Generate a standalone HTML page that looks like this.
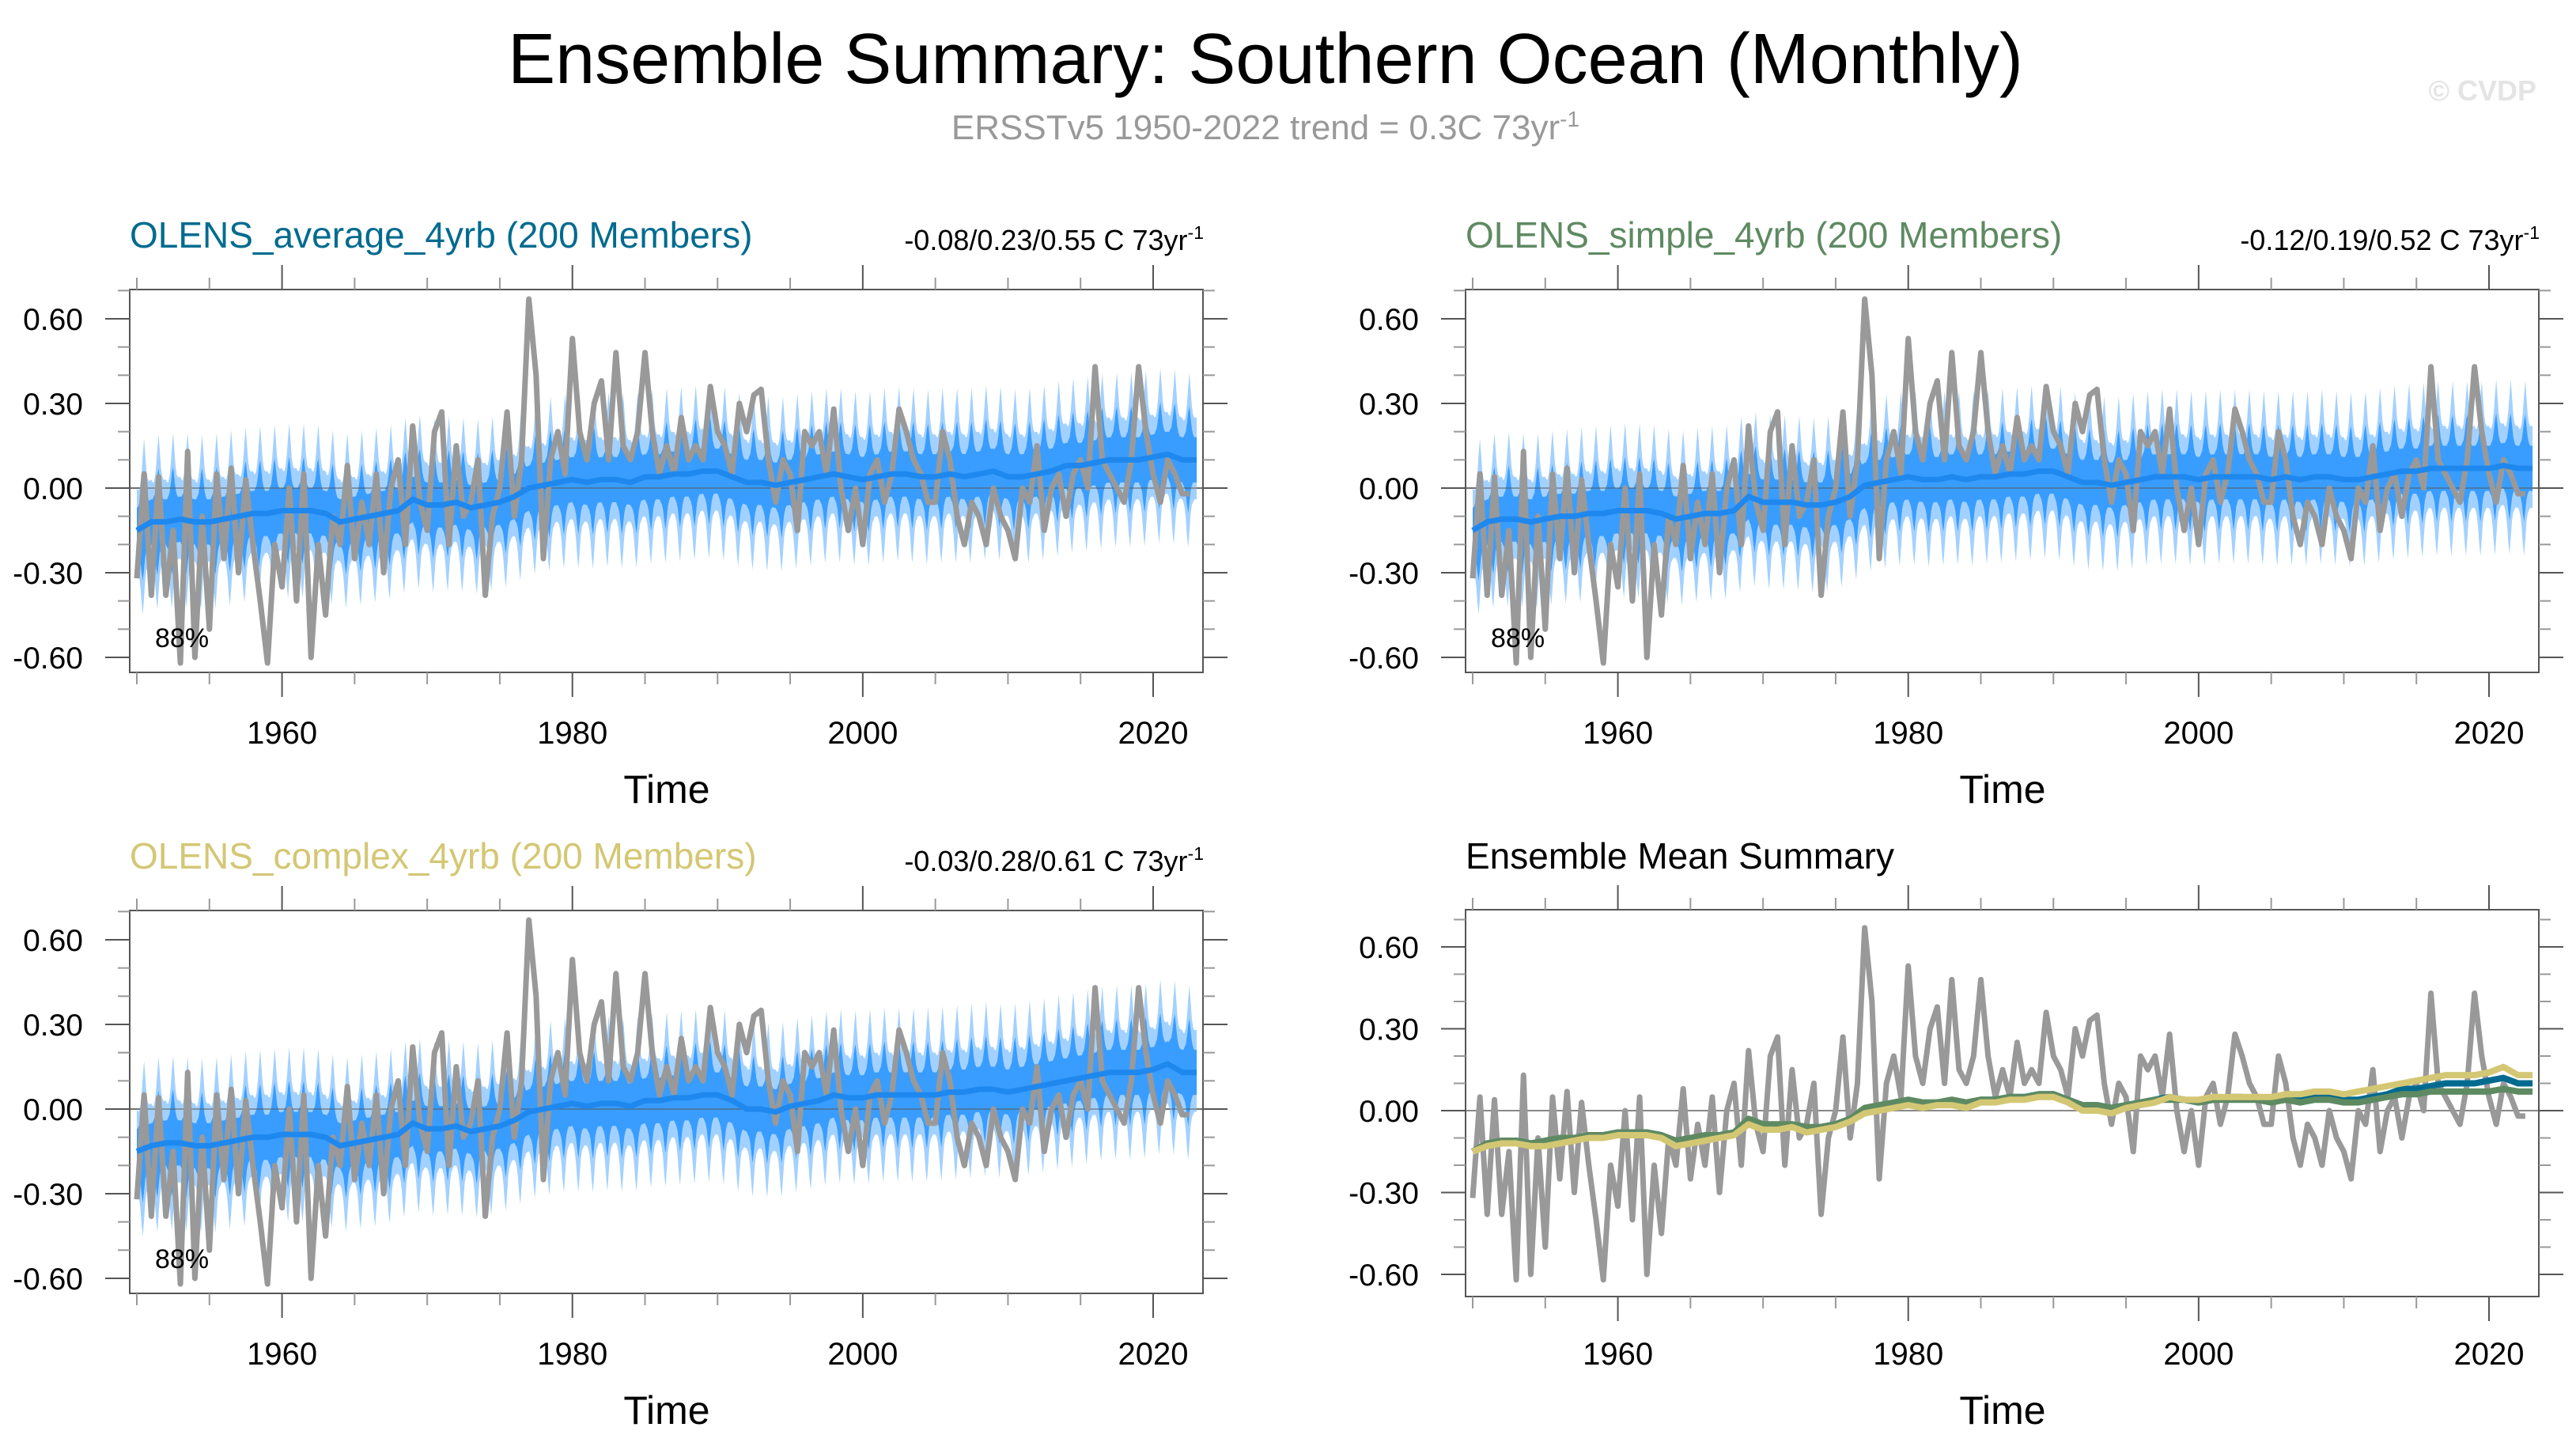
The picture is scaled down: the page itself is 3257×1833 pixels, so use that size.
<!DOCTYPE html>
<html><head><meta charset="utf-8"><style>
html,body{margin:0;padding:0;background:#fff;}
svg{display:block;font-family:"Liberation Sans",Arial,sans-serif;}
</style></head><body>
<svg id="fig" width="3257" height="1833" viewBox="0 0 3257 1833">
<text x="1600" y="105" font-size="90" text-anchor="middle" fill="#000">Ensemble Summary: Southern Ocean (Monthly)</text>
<text x="1600" y="176" font-size="44" text-anchor="middle" fill="#999">ERSSTv5 1950-2022 trend = 0.3C 73yr<tspan dy="-16" font-size="28">-1</tspan></text>
<text x="3207" y="127" font-size="36" font-weight="bold" text-anchor="end" fill="#e4e4e4">© CVDP</text>
</svg>
<script>
// ---- data ----
const years = [];
for (let y = 1950; y <= 2022; y++) years.push(y);
// observed ERSST anomalies, two samples per year 1950..2022
const obsValues = [
-0.32,0.05, -0.38,0.04, -0.38,-0.15, -0.62,0.13, -0.60,-0.10, -0.50,0.05, -0.25,0.07, -0.30,0.03, -0.20,-0.40,
-0.62,-0.20, -0.35,0.00, -0.40,0.05, -0.60,-0.20, -0.45,-0.10, -0.20,0.08, -0.25,-0.05, -0.20,0.05, -0.30,0.00,
0.10,-0.20, 0.22,-0.05, -0.15,0.20, 0.27,-0.20, 0.15,-0.10, -0.05,0.10, -0.38,-0.10, 0.00,0.27, -0.10,0.10,
0.67,0.40, -0.25,0.10, 0.20,0.05, 0.53,0.20, 0.10,0.30, 0.38,0.10, 0.48,0.15, 0.10,0.20, 0.48,0.20, 0.05,0.15,
0.05,0.25, 0.10,0.15, 0.10,0.36, 0.20,0.15, 0.05,0.30, 0.20,0.33, 0.35,0.10, -0.05,0.10, 0.05,-0.15, 0.20,0.15,
0.20,0.05, 0.28,0.00, -0.15,0.00, -0.20,0.05, 0.10,-0.05, 0.05,0.28, 0.20,0.10, 0.05,-0.05, -0.05,0.20, 0.10,-0.10,
-0.20,-0.05, -0.10,-0.20, 0.00,-0.10, -0.15,-0.25, 0.00,-0.05, 0.15,-0.15, 0.00,0.05, -0.10,0.05, 0.10,0.00,
0.43,0.10, 0.05,0.00, -0.05,0.10, 0.43,0.20, 0.05,-0.05, 0.10,0.05, -0.02,-0.02];
// ensemble means, annual
const meanAverage = [-0.15,-0.12,-0.12,-0.11,-0.12,-0.12,-0.11,-0.10,-0.09,-0.09,-0.08,-0.08,-0.08,-0.09,-0.12,-0.11,-0.10,-0.09,-0.08,-0.04,
-0.06,-0.06,-0.05,-0.07,-0.06,-0.05,-0.03,0.00,0.01,0.02,0.03,0.02,0.03,0.03,0.02,0.04,0.04,0.05,0.05,0.06,
0.06,0.04,0.02,0.02,0.01,0.02,0.03,0.04,0.05,0.04,0.03,0.04,0.05,0.05,0.04,0.04,0.05,0.04,0.05,0.06,
0.04,0.04,0.05,0.06,0.08,0.08,0.09,0.10,0.10,0.10,0.11,0.12,0.10];
const meanSimple = [-0.15,-0.12,-0.11,-0.11,-0.12,-0.11,-0.10,-0.10,-0.09,-0.09,-0.08,-0.08,-0.08,-0.09,-0.11,-0.10,-0.09,-0.09,-0.08,-0.03,
-0.05,-0.05,-0.05,-0.06,-0.06,-0.05,-0.03,0.01,0.02,0.03,0.04,0.03,0.03,0.04,0.03,0.04,0.04,0.05,0.05,0.06,
0.06,0.04,0.02,0.02,0.01,0.02,0.03,0.04,0.04,0.04,0.03,0.04,0.04,0.04,0.04,0.03,0.04,0.03,0.04,0.04,
0.03,0.03,0.04,0.05,0.06,0.06,0.07,0.07,0.07,0.07,0.07,0.08,0.07];
const meanComplex = [-0.15,-0.13,-0.12,-0.12,-0.13,-0.13,-0.12,-0.11,-0.10,-0.10,-0.09,-0.09,-0.09,-0.10,-0.13,-0.12,-0.11,-0.10,-0.09,-0.05,
-0.07,-0.07,-0.06,-0.08,-0.07,-0.06,-0.04,-0.01,0.00,0.01,0.02,0.01,0.02,0.02,0.01,0.03,0.03,0.04,0.04,0.05,
0.05,0.03,0.00,0.00,-0.01,0.01,0.02,0.03,0.05,0.04,0.04,0.05,0.05,0.05,0.05,0.05,0.06,0.06,0.07,0.07,
0.06,0.07,0.08,0.09,0.10,0.11,0.12,0.13,0.13,0.13,0.14,0.16,0.13];
// seasonal ensemble spread (offsets from mean) per calendar month
const outerUp = [0.15,0.14,0.14,0.16,0.20,0.26,0.31,0.25,0.19,0.16,0.15,0.15];
const outerDn = [0.14,0.15,0.17,0.21,0.27,0.31,0.25,0.19,0.16,0.15,0.14,0.14];
const innerUp = [0.08,0.08,0.09,0.10,0.13,0.17,0.19,0.15,0.11,0.09,0.08,0.08];
const innerDn = [0.08,0.09,0.10,0.12,0.16,0.19,0.15,0.11,0.09,0.08,0.08,0.08];
const yTicks = [-0.6,-0.3,0,0.3,0.6];
const yTickLabels = ["-0.60","-0.30","0.00","0.30","0.60"];
const xTicks = [1960,1980,2000,2020];
const xTickLabels = ["1960","1980","2000","2020"];

const NS = "http://www.w3.org/2000/svg";
const svg = document.getElementById('fig');
function mk(tag, attrs, parent){ const e=document.createElementNS(NS,tag); for(const k in attrs) e.setAttribute(k,attrs[k]); (parent||svg).appendChild(e); return e; }
function meanAt(arr, t){
  let f=t-1950; if(f<0)f=0; if(f>arr.length-1)f=arr.length-1;
  const i=Math.floor(f), j=Math.min(i+1,arr.length-1), w=f-i; return arr[i]*(1-w)+arr[j]*w; }

const panels = [
 {dx:0, dy:0, title:"OLENS_average_4yrb (200 Members)", color:"#006b8f", stats:"-0.08/0.23/0.55 C 73yr", mean:meanAverage, name:"panel-average", y0:617, s:107/0.3, top:366, bot:850},
 {dx:1689, dy:0, title:"OLENS_simple_4yrb (200 Members)", color:"#5e8a62", stats:"-0.12/0.19/0.52 C 73yr", mean:meanSimple, name:"panel-simple", y0:617, s:107/0.3, top:366, bot:850},
 {dx:0, dy:785, title:"OLENS_complex_4yrb (200 Members)", color:"#d4c774", stats:"-0.03/0.28/0.61 C 73yr", mean:meanComplex, name:"panel-complex", y0:617, s:107/0.3, top:366, bot:850},
 {dx:1689, dy:785, title:"Ensemble Mean Summary", color:"#000", stats:null, mean:null, name:"panel-summary", y0:619, s:103.5/0.3, top:365, bot:854}
];

panels.forEach((p,pi)=>{
  const g = mk('g',{});
  
  
  const L=164+p.dx, R=1521+p.dx, T=p.top+p.dy, B=p.bot+p.dy;
  const X = yr => 173+p.dx + (yr-1950)*(1285/70);
  const Y = v => p.y0+p.dy - v*p.s;
  const clipId='clip'+pi;
  const cp=mk('clipPath',{id:clipId},g); mk('rect',{x:L,y:T,width:R-L,height:B-T},cp);
  const plot=mk('g',{'clip-path':'url(#'+clipId+')'},g);
  const zl=mk('line',{x1:L,x2:R,y1:Y(0),y2:Y(0),stroke:'#888','stroke-width':2},plot);
   
  const obsPath='M'+obsValues.map((v,i)=>X(1950+i*73/obsValues.length)+','+Y(v)).join('L');
  if(p.mean){
    const N=73*12+1; const upO=[],dnO=[],upI=[],dnI=[],ml=[];
    for(let k=0;k<N;k++){const t=1950+k/12; const m=k%12; const mv=meanAt(p.mean,t);
      upO.push([X(t),Y(mv+outerUp[m])]); dnO.push([X(t),Y(mv-outerDn[m])]);
      upI.push([X(t),Y(mv+innerUp[m])]); dnI.push([X(t),Y(mv-innerDn[m])]);}
    for(let k=0;k<=73*4;k++){const t=1950+k/4; ml.push([X(t),Y(meanAt(p.mean,t))]);}
    const poly=(a,b)=>'M'+a.map(q=>q.join(',')).join('L')+'L'+b.slice().reverse().map(q=>q.join(',')).join('L')+'Z';
    const b1=mk('path',{d:poly(upO,dnO),fill:'#a3d1ff'},plot);
     
    const b2=mk('path',{d:poly(upI,dnI),fill:'#399dff'},plot);
     
    mk('line',{x1:L,x2:R,y1:Y(0),y2:Y(0),stroke:'#555','stroke-opacity':0.5,'stroke-width':2},plot);
    const ob=mk('path',{d:obsPath,fill:'none',stroke:'#999','stroke-width':7,'stroke-linejoin':'round'},plot);
     
    const mln=mk('path',{d:'M'+ml.map(q=>q.join(',')).join('L'),fill:'none',stroke:'#1e88ee','stroke-width':7,'stroke-linejoin':'round'},plot);
     
  } else {
    const ob=mk('path',{d:obsPath,fill:'none',stroke:'#999','stroke-width':7,'stroke-linejoin':'round'},plot);
     
    [[meanAverage,'#006b8f','mean-average-line'],[meanSimple,'#5e8a62','mean-simple-line'],[meanComplex,'#d4c774','mean-complex-line']].forEach(s=>{
      const pts=[]; for(let k=0;k<=73*4;k++){const t=1950+k/4; pts.push(X(t)+','+Y(meanAt(s[0],t)));}
      const ln=mk('path',{d:'M'+pts.join('L'),fill:'none',stroke:s[1],'stroke-width':8,'stroke-linejoin':'round'},plot);
       
    });
  }
  const fr=mk('rect',{x:L,y:T,width:R-L,height:B-T,fill:'none',stroke:'#555','stroke-width':2},g);
   
  for(let yr=1950;yr<=2020;yr+=5){const maj=yr%20===0; const len=maj?31:15; const x=X(yr);
    mk('line',{x1:x,x2:x,y1:B,y2:B+len,stroke:maj?'#555':'#999','stroke-width':2},g);
    mk('line',{x1:x,x2:x,y1:T,y2:T-len,stroke:maj?'#555':'#999','stroke-width':2},g);}
  xTicks.forEach((v,i)=>{const t=mk('text',{x:X(v),y:940+p.dy,'font-size':40,'text-anchor':'middle'},g); t.textContent=xTickLabels[i];
     });
  for(let k=-6;k<=7;k++){const v=k/10; const y=Y(v); if(y<T-1||y>B+1)continue; const maj=(k%3===0); const len=maj?31:15;
    mk('line',{x1:L,x2:L-len,y1:y,y2:y,stroke:maj?'#555':'#999','stroke-width':2},g);
    mk('line',{x1:R,x2:R+len,y1:y,y2:y,stroke:maj?'#555':'#999','stroke-width':2},g);}
  yTicks.forEach((v,i)=>{const t=mk('text',{x:105+p.dx,y:Y(v)+14,'font-size':39,'text-anchor':'end'},g); t.textContent=yTickLabels[i];
     });
  const xt=mk('text',{x:843+p.dx,y:1015+p.dy,'font-size':50,'text-anchor':'middle'},g); xt.textContent='Time';
   
  const tt=mk('text',{x:164+p.dx,y:313+p.dy,'font-size':46,fill:p.color},g); tt.textContent=p.title;
   
  if(p.stats){
    const st=mk('text',{x:1522+p.dx,y:316+p.dy,'font-size':36,'text-anchor':'end'},g); st.textContent=p.stats;
    const sp=mk('tspan',{dy:-14,'font-size':23},st); sp.textContent='-1';
     
    const pc=mk('text',{x:196+p.dx,y:818+p.dy,'font-size':34},g); pc.textContent='88%';
     
  }
});
</script>
</body></html>
